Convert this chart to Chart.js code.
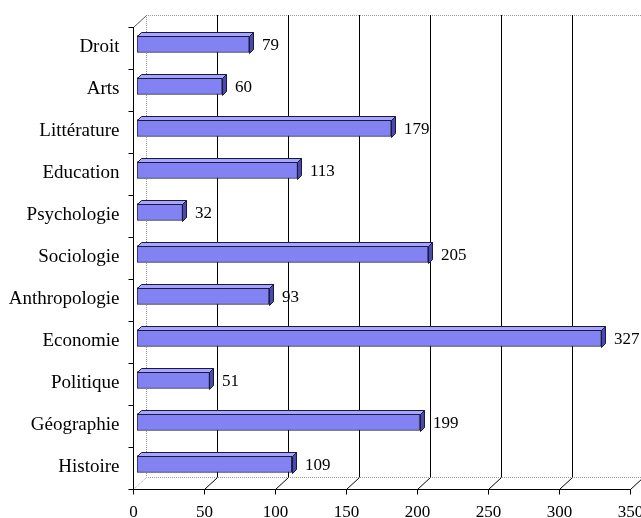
<!DOCTYPE html>
<html lang="fr">
<head>
    <meta charset="UTF-8">
    <title>Disciplines</title>
    <script src="https://cdn.jsdelivr.net/npm/chart.js"></script>
    <style>
        body { margin: 0; background: #ffffff; }
        #wrap { width: 641px; height: 518px; }
    </style>
</head>
<body>
    <div id="wrap"><canvas id="barChart" width="641" height="518"></canvas></div>

    <script>
        // data, top to bottom
        const categories = ['Droit', 'Arts', 'Littérature', 'Education', 'Psychologie', 'Sociologie',
                            'Anthropologie', 'Economie', 'Politique', 'Géographie', 'Histoire'];
        const counts = [79, 60, 179, 113, 32, 205, 93, 327, 51, 199, 109];
        const xTicks = [0, 50, 100, 150, 200, 250, 300, 350];

        const TEXT_FONT = '19px "Liberation Serif", "DejaVu Serif", serif';
        const NUM_FONT = '17px "Liberation Serif", "DejaVu Serif", serif';
        // 3D offsets relative to the plane the bars sit on
        const FRONT = { dx: -4, dy: 4 };
        const BACK = { dx: 9, dy: -8 };
        const DEPTH = 4;

        // back wall + gridlines (behind bars)
        const backWall = {
            id: 'backWall',
            beforeDatasetsDraw(chart) {
                const { ctx, chartArea: a, scales: { x } } = chart;
                const top = a.top + BACK.dy, bottom = a.bottom + BACK.dy;
                const left = x.getPixelForValue(0) + BACK.dx;
                ctx.save();
                ctx.lineWidth = 1;
                // dotted grey frame
                ctx.strokeStyle = '#999999';
                ctx.setLineDash([1, 1]);
                ctx.beginPath();
                ctx.moveTo(641, top + 0.5); ctx.lineTo(left + 0.5, top + 0.5); ctx.lineTo(left + 0.5, bottom + 0.5); ctx.lineTo(641, bottom + 0.5);
                ctx.stroke();
                // floor diagonal at 0
                ctx.beginPath();
                ctx.moveTo(x.getPixelForValue(0) + FRONT.dx + 0.5, a.bottom + FRONT.dy + 0.5);
                ctx.lineTo(left + 0.5, bottom + 0.5);
                ctx.stroke();
                ctx.setLineDash([]);
                // top-left diagonal
                ctx.strokeStyle = '#555555';
                ctx.beginPath();
                ctx.moveTo(x.getPixelForValue(0) + FRONT.dx + 0.5, a.top + FRONT.dy + 0.5);
                ctx.lineTo(left + 0.5, top + 0.5);
                ctx.stroke();
                // gridlines
                ctx.strokeStyle = '#000000';
                xTicks.forEach(v => {
                    if (v === 0) return;
                    const gx = Math.round(x.getPixelForValue(v) + BACK.dx) + 0.5;
                    const fx = Math.round(x.getPixelForValue(v) + FRONT.dx) + 0.5;
                    ctx.beginPath();
                    if (gx < 641) {
                        ctx.moveTo(gx, top);
                        ctx.lineTo(gx, bottom);
                    }
                    ctx.moveTo(gx, bottom + 0.5);
                    ctx.lineTo(fx, a.bottom + FRONT.dy + 0.5);
                    ctx.stroke();
                });
                ctx.restore();
            }
        };

        // 3D caps, front axes, labels
        const frontParts = {
            id: 'frontParts',
            afterDatasetsDraw(chart) {
                const { ctx, chartArea: a, scales: { x, y } } = chart;
                const meta = chart.getDatasetMeta(0);
                ctx.save();
                ctx.lineWidth = 1;
                meta.data.forEach((bar, i) => {
                    const r = Math.round(bar.x), t = Math.round(bar.y - bar.height / 2), b = Math.round(bar.y + bar.height / 2);
                    const l = Math.round(bar.base);
                    ctx.strokeStyle = '#1a1a40';
                    // top face
                    ctx.fillStyle = '#a6a6ff';
                    ctx.beginPath();
                    ctx.moveTo(l + 0.5, t + 0.5); ctx.lineTo(l + DEPTH + 0.5, t - DEPTH + 0.5);
                    ctx.lineTo(r + DEPTH + 0.5, t - DEPTH + 0.5); ctx.lineTo(r + 0.5, t + 0.5);
                    ctx.closePath(); ctx.fill(); ctx.stroke();
                    // end cap
                    ctx.fillStyle = '#4a4aa8';
                    ctx.beginPath();
                    ctx.moveTo(r + 0.5, t + 0.5); ctx.lineTo(r + DEPTH + 0.5, t - DEPTH + 0.5);
                    ctx.lineTo(r + DEPTH + 0.5, b - DEPTH + 0.5); ctx.lineTo(r + 0.5, b + 0.5);
                    ctx.closePath(); ctx.fill(); ctx.stroke();
                    // value label
                    ctx.font = NUM_FONT;
                    ctx.fillStyle = '#000000';
                    ctx.textAlign = 'left';
                    ctx.textBaseline = 'alphabetic';
                    ctx.fillText(String(counts[i]), r + 13, bar.y + 6);
                });

                // front axes
                const fx0 = Math.round(x.getPixelForValue(0) + FRONT.dx) + 0.5;
                const fTop = Math.round(a.top + FRONT.dy), fBot = Math.round(a.bottom + FRONT.dy) + 0.5;
                ctx.strokeStyle = '#000000';
                ctx.beginPath();
                ctx.moveTo(fx0, fTop); ctx.lineTo(fx0, fBot);
                ctx.lineTo(Math.round(x.getPixelForValue(350) + FRONT.dx) + 1, fBot);
                ctx.stroke();
                // category tick marks at boundaries
                for (let i = 0; i <= categories.length; i++) {
                    const ty = Math.round(a.top + FRONT.dy + i * (a.bottom - a.top) / categories.length) + 0.5;
                    ctx.beginPath(); ctx.moveTo(fx0 - 5, ty); ctx.lineTo(fx0, ty); ctx.stroke();
                }
                // x tick marks + labels
                ctx.font = NUM_FONT;
                ctx.textAlign = 'center';
                ctx.textBaseline = 'alphabetic';
                xTicks.forEach(v => {
                    const tx = Math.round(x.getPixelForValue(v) + FRONT.dx) + 0.5;
                    ctx.beginPath(); ctx.moveTo(tx, fBot); ctx.lineTo(tx, fBot + 5); ctx.stroke();
                    ctx.fillText(String(v), tx, fBot + 27);
                });
                // category labels
                ctx.font = TEXT_FONT;
                ctx.textAlign = 'right';
                categories.forEach((c, i) => {
                    ctx.fillText(c, fx0 - 14, y.getPixelForValue(i) + 8);
                });
                ctx.restore();
            }
        };

        new Chart(document.getElementById('barChart'), {
            type: 'bar',
            data: {
                labels: categories,
                datasets: [{
                    data: counts,
                    backgroundColor: '#8282f2',
                    borderColor: '#1a1a40',
                    borderWidth: 1,
                    borderSkipped: false,
                    barThickness: 17
                }]
            },
            options: {
                responsive: false,
                animation: false,
                indexAxis: 'y',
                layout: { padding: { left: 137, top: 23, right: 7, bottom: 33 } },
                scales: {
                    x: { display: false, min: 0, max: 350 },
                    y: { display: false }
                },
                plugins: { legend: { display: false }, tooltip: { enabled: false } }
            },
            plugins: [backWall, frontParts]
        });
    </script>
</body>
</html>
